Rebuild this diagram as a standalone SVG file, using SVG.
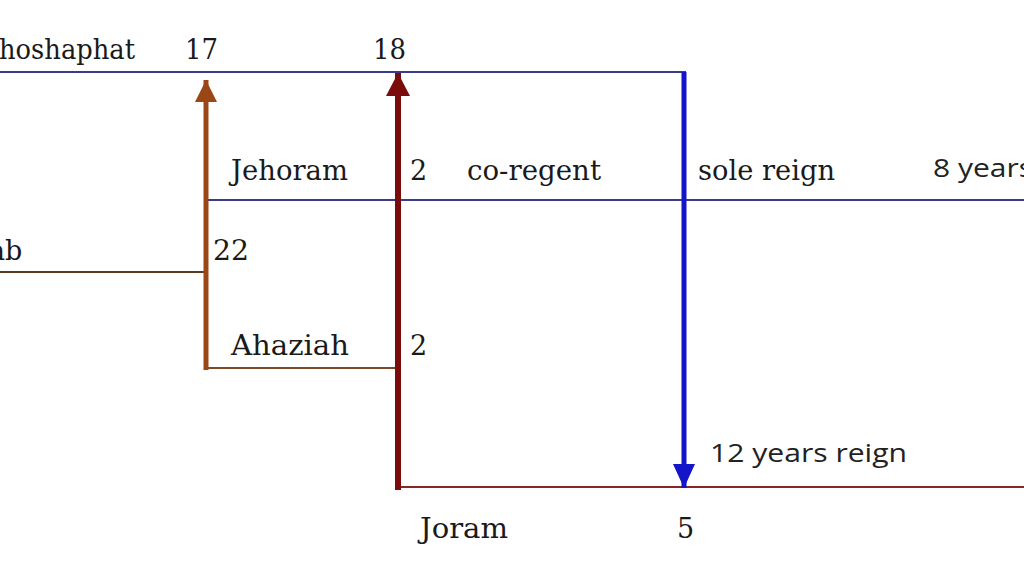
<svg xmlns="http://www.w3.org/2000/svg" width="1024" height="585" viewBox="0 0 1024 585">
<style>
.s{font-family:"DejaVu Serif","Liberation Serif",serif;font-size:27px;fill:#1a1a1a}
.n{font-family:"Open Sans","Liberation Sans",sans-serif;font-size:25px;fill:#222}
.thin{fill:none;stroke-width:2}
</style>
<defs>
<marker id="hb" markerUnits="userSpaceOnUse" markerWidth="24" markerHeight="24" refX="22" refY="12" orient="auto">
<path d="M0,1 L22,12 L0,23 Z" fill="#9a4616"/>
</marker>
<marker id="hr" markerUnits="userSpaceOnUse" markerWidth="26" markerHeight="26" refX="23" refY="13" orient="auto">
<path d="M0,1 L23,13 L0,25 Z" fill="#7a0c0c"/>
</marker>
<marker id="hu" markerUnits="userSpaceOnUse" markerWidth="26" markerHeight="26" refX="24" refY="12" orient="auto">
<path d="M0,1 L24,12 L0,23 Z" fill="#1414c8"/>
</marker>
</defs>
<rect width="1024" height="585" fill="#ffffff"/>
<g id="connectors">
<line class="thin" x1="0" y1="72" x2="686" y2="72" stroke="#3c3a8a"/>
<line class="thin" x1="208" y1="200" x2="1024" y2="200" stroke="#3c3a8a"/>
<line class="thin" x1="0" y1="272" x2="206" y2="272" stroke="#5c3a1e"/>
<line class="thin" x1="206" y1="368" x2="398" y2="368" stroke="#7a4a2a"/>
<line class="thin" x1="398" y1="487" x2="1024" y2="487" stroke="#8a2626"/>
<line x1="206" y1="370" x2="206" y2="80" stroke="#9a4616" stroke-width="5" marker-end="url(#hb)"/>
<line x1="398" y1="490" x2="398" y2="73" stroke="#7a0c0c" stroke-width="6" marker-end="url(#hr)"/>
<line x1="684" y1="72" x2="684" y2="488" stroke="#1414c8" stroke-width="5" marker-end="url(#hu)"/>
</g>
<g id="jehoshaphat"><text class="s" x="-1" y="59" textLength="136" lengthAdjust="spacingAndGlyphs">hoshaphat</text></g>
<g id="y17"><text class="s" x="185" y="59" textLength="33" lengthAdjust="spacingAndGlyphs">17</text></g>
<g id="y18"><text class="s" x="373" y="59" textLength="33" lengthAdjust="spacingAndGlyphs">18</text></g>
<g id="jehoram"><text class="s" x="231" y="180" textLength="117" lengthAdjust="spacingAndGlyphs">Jehoram</text></g>
<g id="j2"><text class="s" x="410" y="180">2</text></g>
<g id="coregent"><text class="s" x="467" y="180" textLength="134" lengthAdjust="spacingAndGlyphs">co-regent</text></g>
<g id="sole"><text class="s" x="698" y="180" textLength="137" lengthAdjust="spacingAndGlyphs">sole reign</text></g>
<g id="eight"><text class="n" x="933" y="177" textLength="100" lengthAdjust="spacingAndGlyphs">8 years</text></g>
<g id="ahab"><text class="s" x="-11" y="260">ab</text></g>
<g id="y22"><text class="s" x="213" y="260" textLength="36" lengthAdjust="spacingAndGlyphs">22</text></g>
<g id="ahaziah"><text class="s" x="231" y="355" textLength="118" lengthAdjust="spacingAndGlyphs">Ahaziah</text></g>
<g id="a2"><text class="s" x="410" y="355">2</text></g>
<g id="twelve"><text class="n" x="710" y="462" textLength="197" lengthAdjust="spacingAndGlyphs">12 years reign</text></g>
<g id="joram"><text class="s" x="420" y="538" textLength="88" lengthAdjust="spacingAndGlyphs">Joram</text></g>
<g id="y5"><text class="s" x="677" y="538">5</text></g>
</svg>
